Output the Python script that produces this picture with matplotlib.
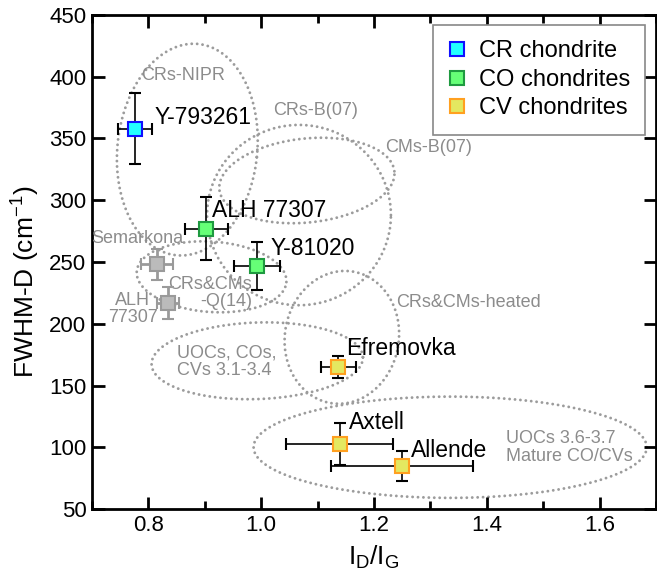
import numpy as np
import matplotlib
matplotlib.use('Agg')
import matplotlib.pyplot as plt
from matplotlib.ticker import MultipleLocator

plt.rcParams['font.family'] = ['Liberation Sans', 'DejaVu Sans']
plt.rcParams['mathtext.default'] = 'regular'

# measured points: I_D/I_G, FWHM-D and their errors
cr_names = ['Y-793261']
cr_x = [0.776]
cr_y = [358]
cr_xerr = [0.030]
cr_yerr = [29]

co_names = ['ALH 77307', 'Y-81020']
co_x = [0.903, 0.992]
co_y = [277, 247]
co_xerr = [0.038, 0.041]
co_yerr = [25.5, 19.5]

cv_names = ['Efremovka', 'Axtell', 'Allende']
cv_x = [1.137, 1.139, 1.249]
cv_y = [165, 103, 85]
cv_xerr = [0.031, 0.095, 0.126]
cv_yerr = [9, 17, 12]

# literature points (grey)
lit_names = ['Semarkona', 'ALH\n77307']
lit_x = [0.815, 0.835]
lit_y = [248, 217]
lit_xerr = [0.028, 0.020]
lit_yerr = [12.5, 13]

# literature fields: centre x, centre y, full width (x units), full height (y units), tilt
field_names = ['CRs-NIPR', 'CRs-B(07)', 'CMs-B(07)', 'CRs&CMs\n-Q(14)',
               'UOCs, COs,\nCVs 3.1-3.4', 'CRs&CMs-heated',
               'UOCs 3.6-3.7\nMature CO/CVs']
field_cx = [0.869, 1.067, 1.081, 0.912, 0.993, 1.143, 1.335]
field_cy = [341, 288, 316, 238, 170, 189, 100]
field_w = [0.248, 0.326, 0.312, 0.266, 0.375, 0.202, 0.697]
field_h = [172, 146, 68, 57, 62, 108, 82]
field_tilt = [-6, 0, 6, -4, 2, -10, 0]

fig = plt.figure(figsize=(6.57, 5.75), dpi=100)
ax = fig.add_axes([92/657, 66/575, 564/657, 494/575])
ax.set_xlim(0.7, 1.7)
ax.set_ylim(50, 450)

# pixels per data unit, for drawing tilted ellipses
sx = 564 / 1.0
sy = 494 / 400.0

ell_color = '#9c9c9c'
for cx, cy, w, h, tilt in zip(field_cx, field_cy, field_w, field_h, field_tilt):
    t = np.linspace(0, 2*np.pi, 400)
    a = w * sx / 2
    b = h * sy / 2
    th = np.radians(tilt)
    u = a*np.cos(t)*np.cos(th) - b*np.sin(t)*np.sin(th)
    v = a*np.cos(t)*np.sin(th) + b*np.sin(t)*np.cos(th)
    ax.plot(cx + u/sx, cy + v/sy, color=ell_color, lw=2.1,
            ls=(0, (0.01, 1.85)), dash_capstyle='round', zorder=1, clip_on=False)

gray_txt = '#8c8c8c'
ax.text(0.861, 401, 'CRs-NIPR', color=gray_txt, fontsize=13, ha='center', va='center')
ax.text(1.097, 373, 'CRs-B(07)', color=gray_txt, fontsize=13, ha='center', va='center')
ax.text(1.296, 343, 'CMs-B(07)', color=gray_txt, fontsize=13, ha='center', va='center')
ax.text(0.984, 225, 'CRs&CMs\n-Q(14)', color=gray_txt, fontsize=13, ha='right',
        va='center', multialignment='right', linespacing=1.0)
ax.text(0.850, 169, 'UOCs, COs,\nCVs 3.1-3.4', color=gray_txt, fontsize=13,
        ha='left', va='center', linespacing=1.05)
ax.text(1.367, 217, 'CRs&CMs-heated', color=gray_txt, fontsize=13, ha='center', va='center')
ax.text(1.434, 100, 'UOCs 3.6-3.7\nMature CO/CVs', color=gray_txt, fontsize=13,
        ha='left', va='center', linespacing=1.05)
ax.text(0.781, 269, lit_names[0], color=gray_txt, fontsize=13, ha='center', va='center')
ax.text(0.772, 212, lit_names[1], color=gray_txt, fontsize=13, ha='center', va='center',
        linespacing=1.0)

# grey literature points
ax.errorbar(lit_x, lit_y, xerr=lit_xerr, yerr=lit_yerr, fmt='s', ms=10,
            mfc='#bbbbbb', mec='#9a9a9a', mew=1.5, ecolor='#9a9a9a',
            elinewidth=2, capsize=4, capthick=2, zorder=3)

err_kw = dict(fmt='s', ms=10, mew=1.5, ecolor='black', elinewidth=1.2,
              capsize=4, capthick=1.2, zorder=4)
ax.errorbar(cr_x, cr_y, xerr=cr_xerr, yerr=cr_yerr, mfc='#22ffff', mec='#1010ff', **err_kw)
ax.errorbar(co_x, co_y, xerr=co_xerr, yerr=co_yerr, mfc='#66ff77', mec='#1f9a40', **err_kw)
ax.errorbar(cv_x, cv_y, xerr=cv_xerr, yerr=cv_yerr, mfc='#e4e860', mec='#ffa020', **err_kw)

# sample names
ax.text(0.811, 367, cr_names[0], fontsize=16.5, ha='left', va='center')
ax.text(0.913, 292, co_names[0], fontsize=16.5, ha='left', va='center')
ax.text(1.017, 261, co_names[1], fontsize=16.5, ha='left', va='center')
ax.text(1.150, 180, cv_names[0], fontsize=16.5, ha='left', va='center')
ax.text(1.155, 120, cv_names[1], fontsize=16.5, ha='left', va='center')
ax.text(1.266, 97, cv_names[2], fontsize=16.5, ha='left', va='center')

# legend with square swatches
h1, = ax.plot([], [], 's', ms=10, mfc='#22ffff', mec='#1010ff', mew=1.5)
h2, = ax.plot([], [], 's', ms=10, mfc='#66ff77', mec='#1f9a40', mew=1.5)
h3, = ax.plot([], [], 's', ms=10, mfc='#e4e860', mec='#ffa020', mew=1.5)
leg = ax.legend([h1, h2, h3], ['CR chondrite', 'CO chondrites', 'CV chondrites'],
                loc='upper right', bbox_to_anchor=(0.981, 0.980), fontsize=17,
                fancybox=False, framealpha=1, edgecolor='#888888',
                handlelength=0.8, handletextpad=0.5, labelspacing=0.28,
                borderpad=0.65, borderaxespad=0)
leg.get_frame().set_linewidth(1.2)

# axes styling
for s in ax.spines.values():
    s.set_linewidth(2)
ax.xaxis.set_major_locator(MultipleLocator(0.2))
ax.xaxis.set_minor_locator(MultipleLocator(0.1))
ax.yaxis.set_major_locator(MultipleLocator(50))
ax.tick_params(which='both', direction='in', top=True, right=True, width=2,
               labelsize=16, pad=4)
ax.tick_params(which='major', length=9)
ax.tick_params(which='minor', length=6)
ax.xaxis.set_major_formatter(matplotlib.ticker.FormatStrFormatter('%.1f'))

ax.set_xlabel('I$_D$/I$_G$', fontsize=19)
ax.set_ylabel('FWHM-D (cm$^{-1}$)', fontsize=19)
ax.xaxis.set_label_coords(0.5, -0.07)
ax.yaxis.set_label_coords(-0.088, 0.46)

fig.savefig('out.png', dpi=100)
